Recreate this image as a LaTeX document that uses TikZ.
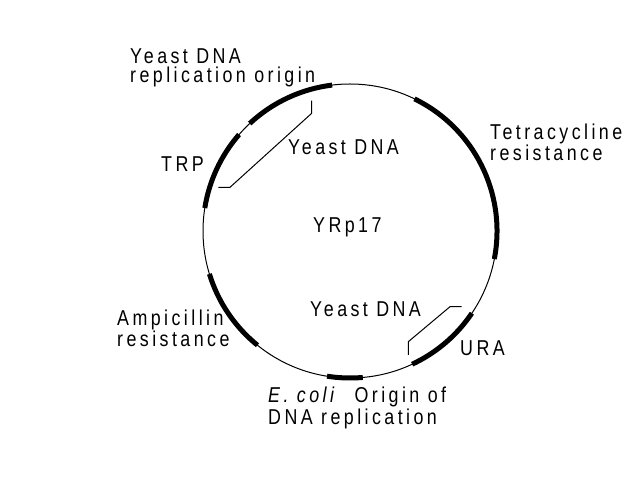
\documentclass[tikz,border=0pt]{standalone}
\usepackage{fontspec}
\setmainfont{Liberation Sans}[FakeStretch=0.83,LetterSpace=16]
\begin{document}
\begin{tikzpicture}[x=1pt,y=1pt,
    lbl/.style={anchor=base west,inner sep=0pt,align=left,
      font=\fontsize{21.5}{19.5}\selectfont},
    gene/.style={line width=5pt},
    thin/.style={line width=1pt}]
  \useasboundingbox (0,0) rectangle (644,476);
  \coordinate (c) at (350,245);
  \draw[thin] (c) circle[radius=147];
  \begin{scope}[shift={(c)},gene]
    \draw (97:147) arc[start angle=97,end angle=133,radius=147];
    \draw (139:147) arc[start angle=139,end angle=171,radius=147];
    \draw (197:147) arc[start angle=197,end angle=231,radius=147];
    \draw (261:147) arc[start angle=261,end angle=275,radius=147];
    \draw (295:147) arc[start angle=295,end angle=326,radius=147];
    \draw (-11:147) arc[start angle=-11,end angle=64,radius=147];
  \end{scope}
  \draw
    (130,393) node[lbl] (ori) {Yeast DNA\\replication origin}
    (161,304.5) node[lbl] (trp) {TRP}
    (288,321) node[lbl] (yup) {Yeast DNA}
    (313,243) node[lbl] (name) {YRp17}
    (490,315) node[lbl] (tet) {Tetracycline\\resistance}
    (310,159) node[lbl] (ylow) {Yeast DNA}
    (460,120) node[lbl] (ura) {URA}
    (117,129.3) node[lbl] (amp) {Ampicillin\\resistance}
    (268,52) node[lbl] (eco) {\textit{E. coli}\ \ Origin of\\DNA replication};
  \coordinate (ya) at (311.7,375.3);
  \coordinate (yb) at (311.7,362.7);
  \coordinate (yc) at (230,288.7);
  \coordinate (yd) at (218.3,288.7);
  \coordinate (za) at (461.7,169.3);
  \coordinate (zb) at (450,169.3);
  \coordinate (zc) at (408.3,134.3);
  \coordinate (zd) at (408.3,121);
  \begin{scope}[thin]
    \draw (ya) -- (yb) -- (yc) -- (yd);
    \draw (za) -- (zb) -- (zc) -- (zd);
  \end{scope}
\end{tikzpicture}
\end{document}
